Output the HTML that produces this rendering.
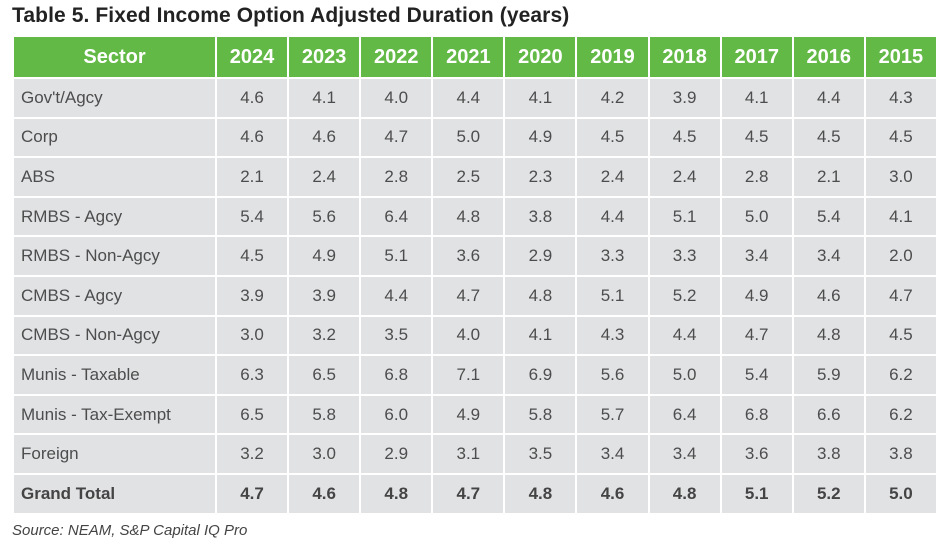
<!DOCTYPE html>
<html><head><meta charset="utf-8"><style>
body{margin:0;width:944px;height:542px;background:#fff;font-family:"Liberation Sans","DejaVu Sans",sans-serif;position:relative;overflow:hidden}
h1{position:absolute;left:12px;top:4px;margin:0;font-size:21px;font-weight:bold;color:#222;letter-spacing:0.1px}
table{position:absolute;left:12px;top:35px;border-collapse:collapse;table-layout:fixed;width:924px}
td,th{border:2px solid #fff;height:37.6px;padding:0;text-align:center;font-size:17px;color:#4d4d4d;background:#e1e2e4}
th{background:#62b946;color:#fff;font-size:20px;font-weight:bold;height:40px}
td.s{text-align:left;padding-left:7px}
tr.g td{font-weight:bold;color:#444}
.src{position:absolute;left:12px;top:522px;font-size:15px;font-style:italic;color:#444}
</style></head><body>
<h1>Table 5. Fixed Income Option Adjusted Duration (years)</h1>
<table id="t">
<colgroup><col style="width:203px"><col span="10" style="width:72.1px"></colgroup>
<thead><tr><th>Sector</th><th>2024</th><th>2023</th><th>2022</th><th>2021</th><th>2020</th><th>2019</th><th>2018</th><th>2017</th><th>2016</th><th>2015</th></tr></thead>
<tbody>
<tr><td class="s">Gov't/Agcy</td><td>4.6</td><td>4.1</td><td>4.0</td><td>4.4</td><td>4.1</td><td>4.2</td><td>3.9</td><td>4.1</td><td>4.4</td><td>4.3</td></tr>
<tr><td class="s">Corp</td><td>4.6</td><td>4.6</td><td>4.7</td><td>5.0</td><td>4.9</td><td>4.5</td><td>4.5</td><td>4.5</td><td>4.5</td><td>4.5</td></tr>
<tr><td class="s">ABS</td><td>2.1</td><td>2.4</td><td>2.8</td><td>2.5</td><td>2.3</td><td>2.4</td><td>2.4</td><td>2.8</td><td>2.1</td><td>3.0</td></tr>
<tr><td class="s">RMBS - Agcy</td><td>5.4</td><td>5.6</td><td>6.4</td><td>4.8</td><td>3.8</td><td>4.4</td><td>5.1</td><td>5.0</td><td>5.4</td><td>4.1</td></tr>
<tr><td class="s">RMBS - Non-Agcy</td><td>4.5</td><td>4.9</td><td>5.1</td><td>3.6</td><td>2.9</td><td>3.3</td><td>3.3</td><td>3.4</td><td>3.4</td><td>2.0</td></tr>
<tr><td class="s">CMBS - Agcy</td><td>3.9</td><td>3.9</td><td>4.4</td><td>4.7</td><td>4.8</td><td>5.1</td><td>5.2</td><td>4.9</td><td>4.6</td><td>4.7</td></tr>
<tr><td class="s">CMBS - Non-Agcy</td><td>3.0</td><td>3.2</td><td>3.5</td><td>4.0</td><td>4.1</td><td>4.3</td><td>4.4</td><td>4.7</td><td>4.8</td><td>4.5</td></tr>
<tr><td class="s">Munis - Taxable</td><td>6.3</td><td>6.5</td><td>6.8</td><td>7.1</td><td>6.9</td><td>5.6</td><td>5.0</td><td>5.4</td><td>5.9</td><td>6.2</td></tr>
<tr><td class="s">Munis - Tax-Exempt</td><td>6.5</td><td>5.8</td><td>6.0</td><td>4.9</td><td>5.8</td><td>5.7</td><td>6.4</td><td>6.8</td><td>6.6</td><td>6.2</td></tr>
<tr><td class="s">Foreign</td><td>3.2</td><td>3.0</td><td>2.9</td><td>3.1</td><td>3.5</td><td>3.4</td><td>3.4</td><td>3.6</td><td>3.8</td><td>3.8</td></tr>
<tr class="g"><td class="s">Grand Total</td><td>4.7</td><td>4.6</td><td>4.8</td><td>4.7</td><td>4.8</td><td>4.6</td><td>4.8</td><td>5.1</td><td>5.2</td><td>5.0</td></tr>
</tbody></table>
<div class="src">Source: NEAM, S&amp;P Capital IQ Pro</div>
</body></html>
